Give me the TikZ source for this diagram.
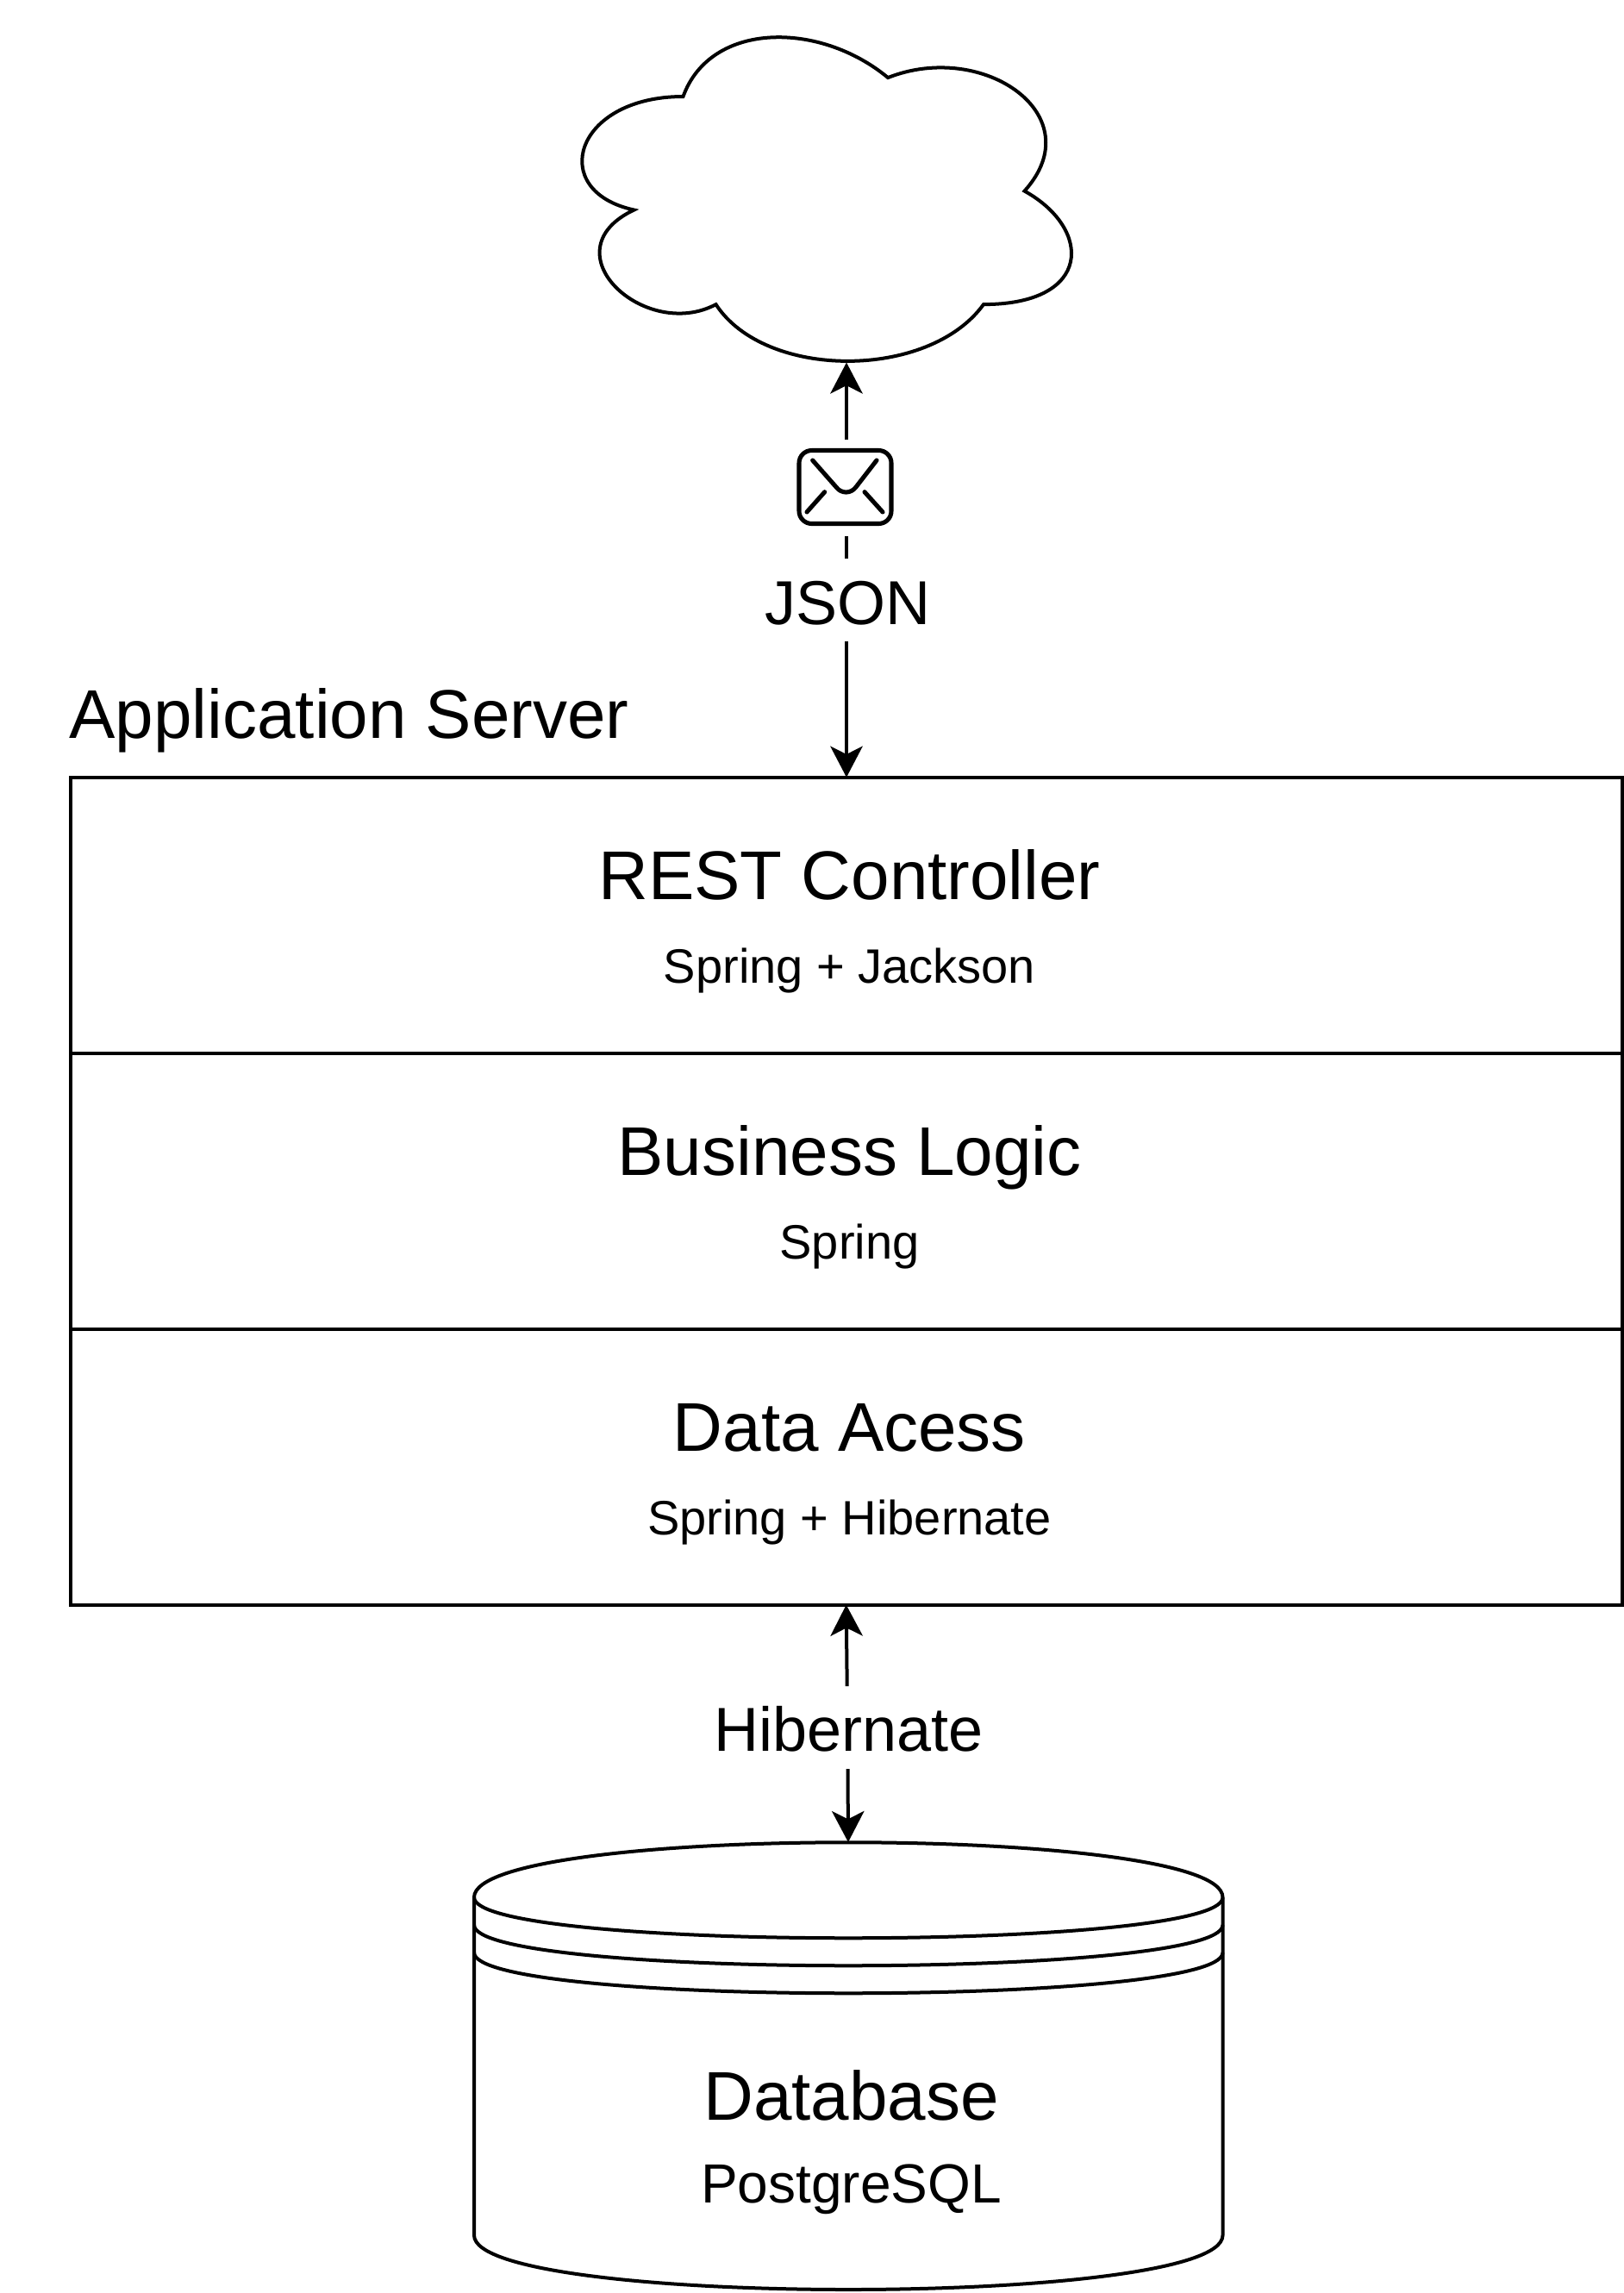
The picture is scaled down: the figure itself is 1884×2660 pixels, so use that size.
\documentclass[tikz,border=0pt]{standalone}
\usepackage{fontspec}
\setmainfont{Liberation Sans}
\usetikzlibrary{arrows.meta}
\def\px{0.75pt}
\newcommand{\fs}[1]{\fontsize{\dimexpr#1\dimexpr0.75pt\relax\relax}{\dimexpr#1\dimexpr0.9pt\relax\relax}\selectfont}
\tikzset{
  x=0.75pt,y=-0.75pt,
  every path/.style={line width=3pt,black},
  conn/.style={line width=3pt,-{Stealth[length=27pt,width=28pt,inset=7pt]}},
  txt/.style={anchor=base,inner sep=0pt,outer sep=0pt,text=black},
  big/.style={txt,font=\fs{80}},
  mid/.style={txt,font=\fs{72}},
  sub/.style={txt,font=\fs{56}},
  dbsub/.style={txt,font=\fs{64}},
  tier/.style={draw,rectangle,line width=3pt,minimum width=1800.5*\px,minimum height=320*\px,inner sep=0pt,outer sep=0pt},
  gap/.style={fill=white,inner sep=0pt,outer sep=0pt,draw=none},
  icon/.style={line width=3.8pt,line cap=round,line join=round}
}
\begin{document}
\begin{tikzpicture}
\useasboundingbox (0,0) rectangle (1884,2660);
% cloud
\begin{scope}[shift={(792.5,112)},x=3.96pt,y=-4.11pt]
\draw (0,0) .. controls (-24,0) and (-30,20) .. (-10.8,24)
  .. controls (-30,32.8) and (-8.4,52) .. (7.2,44)
  .. controls (18,60) and (54,60) .. (66,44)
  .. controls (90,44) and (90,28) .. (75,20)
  .. controls (90,4) and (66,-12) .. (45,-4)
  .. controls (30,-16) and (6,-16) .. (0,0) -- cycle;
\end{scope}
\coordinate (cloudbot) at (982,420.5);
% tiers
\node[tier,anchor=north west] (rest) at (81.5,901.7) {};
\node[tier,anchor=north west] (biz) at (81.5,1221.7) {};
\node[tier,anchor=north west] (data) at (81.5,1541.7) {};
\node[big] (resttitle) at (985.5,1043.5) {REST Controller};
\node[sub] (restsub) at (985.5,1140) {Spring + Jackson};
\node[big] (biztitle) at (985.5,1363.5) {Business Logic};
\node[sub] (bizsub) at (985.5,1460) {Spring};
\node[big] (datatitle) at (985.5,1683.5) {Data Acess};
\node[sub] (datasub) at (985.5,1780) {Spring + Hibernate};
\node[big,anchor=base west] (app) at (80.5,856.5) {Application Server};
% database
\coordinate (dbtop) at (984,2137);
\draw[fill=white] (550,2201) .. controls (550,2116) and (1418.5,2116) .. (1418.5,2201)
  -- (1418.5,2593) .. controls (1418.5,2677) and (550,2677) .. (550,2593) -- cycle;
\draw (550,2201) .. controls (550,2264) and (1418.5,2264) .. (1418.5,2201);
\draw (550,2233) .. controls (550,2296) and (1418.5,2296) .. (1418.5,2233);
\draw (550,2265) .. controls (550,2328) and (1418.5,2328) .. (1418.5,2265);
\node[big] (dbtitle) at (987.5,2459) {Database};
\node[dbsub] (dbsubt) at (987.5,2555) {PostgreSQL};
% connectors
\coordinate (resttop) at (982,901.7);
\coordinate (datatop) at (981.7,1861.7);
\node[gap,minimum width=200*\px,minimum height=96*\px] (jsongap) at (982,696) {};
\node[mid] (json) at (983.5,724) {JSON};
\node[gap,minimum width=130*\px,minimum height=112*\px] (mailgap) at (982,566) {};
\draw[conn] (mailgap.north) -- (cloudbot);
\draw (mailgap.south) -- (jsongap.north);
\draw[conn] (jsongap.south) -- (resttop);
% mail icon
\draw[icon,rounded corners=11pt] (927,522.5) rectangle (1034,607.5);
\draw[icon] (942.7,534) -- (970,565) .. controls (976,573) and (987,573) .. (993,565) -- (1017,534);
\draw[icon] (936,594) -- (956.7,570.7);
\draw[icon] (1003,570.7) -- (1024,594);
% hibernate
\coordinate (hibup) at (982.7,1956);
\coordinate (hibdown) at (983.5,2052);
\draw[conn] (hibup) -- (datatop);
\draw[conn] (hibdown) -- (dbtop);
\node[mid] (hib) at (984.5,2031.5) {Hibernate};
\end{tikzpicture}
\end{document}
